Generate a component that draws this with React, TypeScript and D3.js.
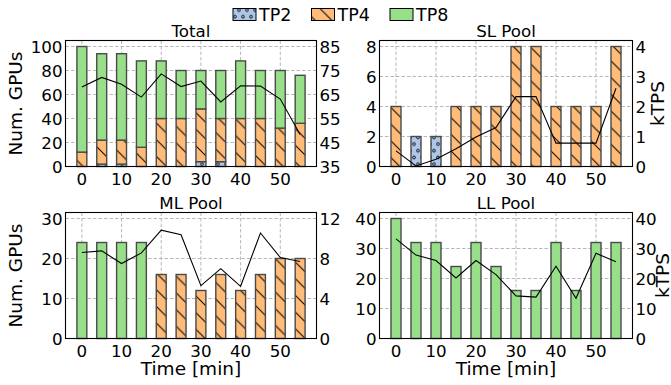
import * as d3 from "d3";
import React from "react";

// time axis (minutes)
const times = [0, 5, 10, 15, 20, 25, 30, 35, 40, 45, 50, 55];
const xTicks = [0, 10, 20, 30, 40, 50];

// Total panel
const totalTP2 = [0, 2, 2, 0, 0, 0, 4, 4, 0, 0, 0, 0];
const totalTP4 = [12, 20, 20, 16, 40, 40, 44, 36, 40, 40, 32, 36];
const totalTP8 = [88, 72, 72, 72, 48, 40, 32, 40, 48, 40, 48, 40];
const totalKTPS = [68.1, 72.1, 69.3, 63.9, 73.6, 68.3, 70.6, 61.9, 68.6, 68.5, 63.1, 48.3];

// SL pool
const slTP2 = [0, 2, 2, 0, 0, 0, 0, 0, 0, 0, 0, 0];
const slTP4 = [4, 0, 0, 4, 4, 4, 8, 8, 4, 4, 4, 8];
const slTP8 = [0, 0, 0, 0, 0, 0, 0, 0, 0, 0, 0, 0];
const slKTPS = [0.52, 0.02, 0.24, 0.59, 0.98, 1.3, 2.33, 2.33, 0.78, 0.78, 0.78, 2.61];

// ML pool
const mlTP2 = [0, 0, 0, 0, 0, 0, 0, 0, 0, 0, 0, 0];
const mlTP4 = [0, 0, 0, 0, 16, 16, 12, 16, 12, 16, 20, 20];
const mlTP8 = [24, 24, 24, 24, 0, 0, 0, 0, 0, 0, 0, 0];
const mlKTPS = [8.6, 8.76, 7.5, 8.56, 10.84, 10.38, 5.29, 6.98, 5.22, 10.55, 8.1, 7.7];

// LL pool
const llTP2 = [0, 0, 0, 0, 0, 0, 0, 0, 0, 0, 0, 0];
const llTP4 = [0, 0, 0, 0, 0, 0, 0, 0, 0, 0, 0, 0];
const llTP8 = [40, 32, 32, 24, 32, 24, 16, 16, 32, 16, 32, 32];
const llKTPS = [33.2, 27.8, 26.0, 20.2, 26.0, 21.3, 14.2, 13.8, 24.1, 13.4, 28.4, 25.6];

const legendLabels = ["TP2", "TP4", "TP8"];
const colors = ["#aec7e8", "#ffbb78", "#98df8a"];
const fills = ["url(#dots)", "url(#hatch)", colors[2]];

const FONT = "DejaVu Sans";
const TICK = 16.7;
const LABEL = 18.5;
const BAR_W = 2.5;

type PanelProps = {
  x0: number;
  y0: number;
  w: number;
  h: number;
  title: string;
  tp2: number[];
  tp4: number[];
  tp8: number[];
  ktps: number[];
  yMax: number;
  yTicks: number[];
  rDomain: [number, number];
  rTicks: number[];
  leftLabel?: boolean;
  rightLabelX?: number;
  xLabel?: boolean;
};

function Panel(p: PanelProps) {
  const x = d3.scaleLinear().domain([-4.125, 59.125]).range([p.x0, p.x0 + p.w]);
  const y = d3.scaleLinear().domain([0, p.yMax]).range([p.y0 + p.h, p.y0]);
  const yr = d3.scaleLinear().domain(p.rDomain).range([p.y0 + p.h, p.y0]);
  const line = d3
    .line<number>()
    .x((_, i) => x(times[i]))
    .y((d) => yr(d));

  const stacks = [p.tp2, p.tp4, p.tp8];
  const bars: JSX.Element[] = [];
  times.forEach((t, i) => {
    let base = 0;
    stacks.forEach((s, k) => {
      const v = s[i];
      if (v > 0) {
        bars.push(
          <rect
            key={`${i}-${k}`}
            x={x(t - BAR_W / 2)}
            width={x(BAR_W) - x(0)}
            y={y(base + v)}
            height={y(base) - y(base + v)}
            fill={fills[k]}
            stroke="#4a4a4a"
            strokeWidth={1.4}
          />
        );
      }
      base += v;
    });
  });

  const bottom = p.y0 + p.h;
  const right = p.x0 + p.w;
  return (
    <g>
      {/* grid */}
      {xTicks.map((t) => (
        <line key={`gx${t}`} x1={x(t)} x2={x(t)} y1={p.y0} y2={bottom}
          stroke="#b0b0b0" strokeWidth={0.9} strokeDasharray="3.5,2" />
      ))}
      {p.yTicks.map((t) => (
        <line key={`gy${t}`} x1={p.x0} x2={right} y1={y(t)} y2={y(t)}
          stroke="#b0b0b0" strokeWidth={0.9} strokeDasharray="3.5,2" />
      ))}
      {bars}
      <path d={line(p.ktps) ?? ""} fill="none" stroke="#000" strokeWidth={1.1} />
      <rect x={p.x0} y={p.y0} width={p.w} height={p.h} fill="none" stroke="#000" strokeWidth={1.1} />

      {/* ticks */}
      {xTicks.map((t) => (
        <text key={`tx${t}`} x={x(t)} y={bottom + 18.5} fontSize={TICK} textAnchor="middle">{t}</text>
      ))}
      {p.yTicks.map((t) => (
        <text key={`ty${t}`} x={p.x0 - 3} y={y(t)} dy="0.36em" fontSize={TICK} textAnchor="end">{t}</text>
      ))}
      {p.rTicks.map((t) => (
        <text key={`tr${t}`} x={right + 3} y={yr(t)} dy="0.36em" fontSize={TICK} textAnchor="start">{t}</text>
      ))}

      <text x={p.x0 + p.w / 2} y={p.y0 - 4} fontSize={TICK} textAnchor="middle">{p.title}</text>
      {p.leftLabel && (
        <text transform={`translate(22,${p.y0 + p.h / 2}) rotate(-90)`} fontSize={LABEL} textAnchor="middle">Num. GPUs</text>
      )}
      {p.rightLabelX !== undefined && (
        <text transform={`translate(${p.rightLabelX},${p.y0 + p.h / 2}) rotate(-90)`}
          fontSize={LABEL} textAnchor="middle">kTPS</text>
      )}
      {p.xLabel && (
        <text x={p.x0 + p.w / 2} y={bottom + 36.5} fontSize={LABEL} textAnchor="middle">Time [min]</text>
      )}
    </g>
  );
}

export default function App() {
  const hs = 16.67;
  return (
    <div style={{ position: "fixed", left: 0, top: 0 }}>
      <svg width={671} height={385} style={{ display: "block", background: "#fff" }} fontFamily={FONT}>
        <defs>
          <pattern id="hatch" patternUnits="userSpaceOnUse" width={hs} height={hs}>
            <rect width={hs} height={hs} fill={colors[1]} />
            <path d={`M0,0L${hs},${hs}M-2,${hs - 2}L2,${hs + 2}M${hs - 2},-2L${hs + 2},2`} stroke="#000" strokeWidth={1} />
          </pattern>
          <pattern id="dots" patternUnits="userSpaceOnUse" width={8} height={13.4}>
            <rect width={8} height={13.4} fill={colors[0]} />
            <circle cx={2} cy={3.35} r={1.4} fill="none" stroke="#000" strokeWidth={0.9} />
            <circle cx={6} cy={10.05} r={1.4} fill="none" stroke="#000" strokeWidth={0.9} />
          </pattern>
        </defs>

        {/* legend */}
        {legendLabels.map((l, i) => (
          <g key={l} transform={`translate(${233 + i * 78.5},0)`}>
            <rect x={0} y={8.5} width={23} height={12} fill={fills[i]} stroke="#000" strokeWidth={1} />
            <text x={26} y={21} fontSize={17.5}>{l}</text>
          </g>
        ))}

        <Panel x0={65.5} y0={40.5} w={251} h={126} title="Total"
          tp2={totalTP2} tp4={totalTP4} tp8={totalTP8} ktps={totalKTPS}
          yMax={105} yTicks={[0, 20, 40, 60, 80, 100]}
          rDomain={[35, 87.5]} rTicks={[35, 45, 55, 65, 75, 85]} leftLabel />
        <Panel x0={379.5} y0={40.5} w={253} h={126} title="SL Pool"
          tp2={slTP2} tp4={slTP4} tp8={slTP8} ktps={slKTPS}
          yMax={8.4} yTicks={[0, 2, 4, 6, 8]}
          rDomain={[0, 4.2]} rTicks={[0, 1, 2, 3, 4]} rightLabelX={663.5} />
        <Panel x0={65.5} y0={212.5} w={251} h={126} title="ML Pool"
          tp2={mlTP2} tp4={mlTP4} tp8={mlTP8} ktps={mlKTPS}
          yMax={31.5} yTicks={[0, 10, 20, 30]}
          rDomain={[0, 12.6]} rTicks={[0, 4, 8, 12]} leftLabel xLabel />
        <Panel x0={379.5} y0={212.5} w={253} h={126} title="LL Pool"
          tp2={llTP2} tp4={llTP4} tp8={llTP8} ktps={llKTPS}
          yMax={42} yTicks={[0, 10, 20, 30, 40]}
          rDomain={[0, 42]} rTicks={[0, 10, 20, 30, 40]} rightLabelX={669} xLabel />
      </svg>
    </div>
  );
}
